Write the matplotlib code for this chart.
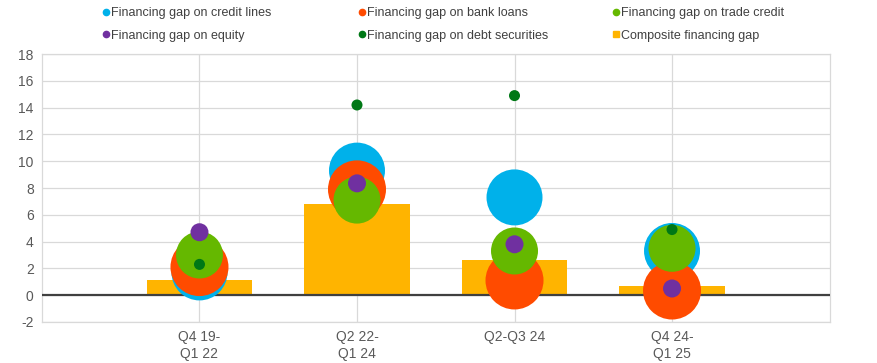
import matplotlib
matplotlib.use("Agg")
import matplotlib.pyplot as plt
import numpy as np
from matplotlib.lines import Line2D

# periods on the x axis
periods = ["Q4 19-\nQ1 22", "Q2 22-\nQ1 24", "Q2-Q3 24", "Q4 24-\nQ1 25"]

# financing gaps
credit_lines = [1.7, 9.3, 7.3, 3.3]
bank_loans = [2.1, 7.9, 1.1, 0.35]
trade_credit = [3.0, 7.1, 3.3, 3.5]
equity = [4.7, 8.35, 3.8, 0.5]
debt_securities = [2.3, 14.2, 14.9, 4.9]
composite = [1.15, 6.8, 2.6, 0.7]

plt.rcParams['font.family'] = ['Liberation Sans', 'DejaVu Sans']
plt.rcParams['axes.unicode_minus'] = False

fig = plt.figure(figsize=(8.78, 3.63), dpi=100)
ax = fig.add_axes([0.0478, 0.113, 0.897, 0.738])

x = np.arange(len(periods))

# bars first, bubbles on top
ax.bar(x, composite, width=0.67, color='#FFB400', zorder=2)
ax.axhline(0, color='#404040', linewidth=1.6, zorder=3)

# series: values, colour, bubble size (points^2)
series = [
    (credit_lines, '#00B1EA', 1625, 'Financing gap on credit lines'),
    (bank_loans, '#FF4B00', 1745, 'Financing gap on bank loans'),
    (trade_credit, '#65B800', 1145, 'Financing gap on trade credit'),
    (equity, '#7030A0', 168, 'Financing gap on equity'),
    (debt_securities, '#007816', 63, 'Financing gap on debt securities'),
]
z = 4
for vals, col, size, lab in series:
    ax.scatter(x, vals, s=size, color=col, edgecolors='none', zorder=z)
    z += 1

ax.set_xlim(-1, 4)
ax.set_ylim(-2, 18)
ax.set_yticks(np.arange(-2, 19, 2))
ax.set_xticks(x)
ax.set_xticklabels(periods)
ax.tick_params(axis='both', length=0, labelsize=10, colors='#595959', pad=6)
ax.grid(True, color='#D9D9D9', linewidth=0.9, zorder=0)
ax.set_axisbelow(True)
for sp in ax.spines.values():
    sp.set_color('#D9D9D9')
    sp.set_linewidth(0.9)

# legend handles
h = {}
for vals, col, size, lab in series:
    h[lab] = Line2D([], [], marker='o', linestyle='none', color=col,
                    markersize=4.5, label=lab)
h['Composite financing gap'] = Line2D([], [], marker='s', linestyle='none',
                                      color='#FFB400', markersize=4.5,
                                      label='Composite financing gap')

# three legend columns, placed separately like in the original
columns = [
    (['Financing gap on credit lines', 'Financing gap on equity'], 0.1042),
    (['Financing gap on bank loans', 'Financing gap on debt securities'], 0.3947),
    (['Financing gap on trade credit', 'Composite financing gap'], 0.685),
]
for keys, xpos in columns:
    fig.legend(handles=[h[k] for k in keys], ncol=1, frameon=False,
               loc='upper left', bbox_to_anchor=(xpos, 1.012),
               fontsize=9, labelcolor='#404040', handlelength=0.6,
               handletextpad=0.1, labelspacing=0.87)

fig.savefig('out.png', dpi=100)
